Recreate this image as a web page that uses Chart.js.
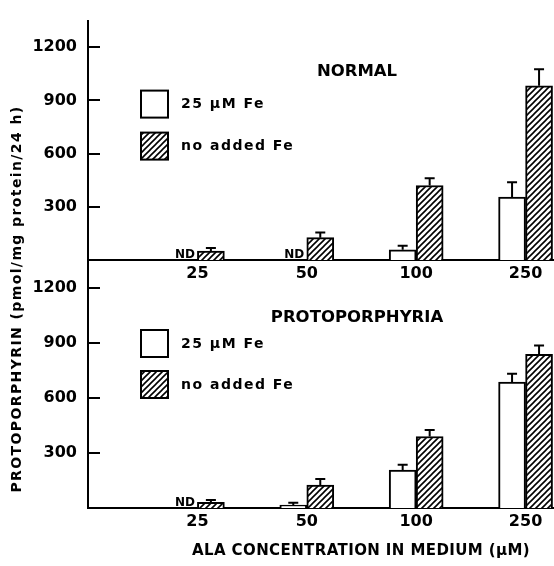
<!DOCTYPE html>
<html>
<head>
<meta charset="utf-8">
<script src="https://cdn.jsdelivr.net/npm/chart.js@4.4.0/dist/chart.umd.min.js"></script>
<style>
  html, body { margin: 0; padding: 0; background: #fff; overflow: hidden; }
  #wrap { position: relative; width: 554px; height: 566px; }
  #wrap canvas { position: absolute; left: 0; top: 0; }
</style>
</head>
<body>
<div id="wrap">
  <canvas id="normalChart" width="554" height="566"></canvas>
  <canvas id="ppChart" width="554" height="566"></canvas>
</div>
<script>
// ALA concentrations (uM) and their slot on the x axis
const alaLabels = ['25', '50', '100', '250'];
const alaPos = [1, 2, 3, 4];
const yTicks = [300, 600, 900, 1200];

// Normal cells (null = ND)
const normalFe = [null, null, 58, 355];
const normalFeErr = [null, null, 23, 83];
const normalNoFe = [50, 126, 420, 982];
const normalNoFeErr = [18, 29, 41, 94];

// Protoporphyria cells
const ppFe = [null, 16, 207, 686];
const ppFeErr = [null, 13, 29, 45];
const ppNoFe = [31, 125, 389, 836];
const ppNoFeErr = [13, 33, 35, 48];

const FONT = '"DejaVu Sans", sans-serif';

// diagonal hatch fill
function makeHatch(ctx) {
    const tile = document.createElement('canvas');
    tile.width = 6; tile.height = 6;
    const g = tile.getContext('2d');
    g.fillStyle = '#fff';
    g.fillRect(0, 0, 6, 6);
    g.strokeStyle = '#000';
    g.lineWidth = 1.6;
    g.beginPath();
    g.moveTo(0, 6); g.lineTo(6, 0);
    g.moveTo(-1, 1); g.lineTo(1, -1);
    g.moveTo(5, 7); g.lineTo(7, 5);
    g.stroke();
    return ctx.createPattern(tile, 'repeat');
}

// inward ticks, error bars, ND marks, legend, panel title, axis titles
const decor = {
    id: 'decor',
    afterDraw(chart, args, o) {
        const { ctx, chartArea: area, scales: { y } } = chart;
        ctx.save();
        ctx.strokeStyle = '#000';
        ctx.fillStyle = '#000';
        ctx.lineWidth = 2;

        ctx.beginPath();
        y.ticks.forEach(t => {
            const py = Math.round(y.getPixelForValue(t.value));
            ctx.moveTo(area.left, py);
            ctx.lineTo(area.left + 12, py);
        });
        ctx.stroke();

        chart.data.datasets.forEach((ds, di) => {
            chart.getDatasetMeta(di).data.forEach((bar, i) => {
                const v = ds.data[i].y;
                if (v == null) {
                    ctx.font = 'bold 12px ' + FONT;
                    ctx.textAlign = 'center';
                    ctx.textBaseline = 'alphabetic';
                    ctx.fillText('ND', bar.x + 1, area.bottom - 2);
                    return;
                }
                const e = ds.errors[i];
                if (!e) return;
                const top = y.getPixelForValue(v + e);
                ctx.beginPath();
                ctx.moveTo(bar.x, bar.y);
                ctx.lineTo(bar.x, top);
                ctx.moveTo(bar.x - 5, top);
                ctx.lineTo(bar.x + 5, top);
                ctx.stroke();
            });
        });

        // legend
        ctx.font = 'bold 14px ' + FONT;
        ctx.letterSpacing = '1.5px';
        ctx.textAlign = 'left';
        ctx.textBaseline = 'middle';
        chart.data.datasets.forEach((ds, di) => {
            const by = area.top + o.legendTop[di];
            ctx.fillStyle = ds.backgroundColor;
            ctx.fillRect(141, by, 27, 27);
            ctx.strokeRect(141, by, 27, 27);
            ctx.fillStyle = '#000';
            ctx.fillText(ds.label, 181, by + 14);
        });

        // panel title
        ctx.letterSpacing = '0px';
        ctx.font = 'bold 16.5px ' + FONT;
        ctx.textAlign = 'center';
        ctx.fillText(o.title, 357, area.top + o.titleTop);

        if (o.axisTitles) {
            ctx.font = 'bold 15px ' + FONT;
            ctx.letterSpacing = '0.4px';
            ctx.fillText('ALA CONCENTRATION IN MEDIUM (\u03BCM)', 361, 551);
            ctx.translate(17, 299);
            ctx.rotate(-Math.PI / 2);
            ctx.font = 'bold 14px ' + FONT;
            ctx.letterSpacing = '1.4px';
            ctx.fillText('PROTOPORPHYRIN (pmol/mg protein/24 h)', 0, 0);
        }
        ctx.restore();
    }
};

function panel(canvasId, feVals, feErr, noFeVals, noFeErr, o) {
    const canvas = document.getElementById(canvasId);
    const hatch = makeHatch(canvas.getContext('2d'));
    const pts = vals => alaPos.map((x, i) => ({ x: x, y: vals[i] }));
    return new Chart(canvas, {
        type: 'bar',
        data: {
            datasets: [{
                label: '25 \u03BCM Fe',
                data: pts(feVals),
                errors: feErr,
                backgroundColor: '#fff',
                borderColor: '#000',
                borderWidth: 2,
                barThickness: 27
            }, {
                label: 'no added Fe',
                data: pts(noFeVals),
                errors: noFeErr,
                backgroundColor: hatch,
                borderColor: '#000',
                borderWidth: 2,
                barThickness: 27
            }]
        },
        options: {
            responsive: false,
            animation: false,
            events: [],
            layout: { padding: { top: o.top, left: 0, right: 0, bottom: 0 } },
            plugins: {
                legend: { display: false },
                tooltip: { enabled: false },
                decor: o
            },
            scales: {
                x: {
                    type: 'linear',
                    min: 0,
                    max: 4.26,
                    offset: false,
                    grid: { display: false, drawTicks: false },
                    border: { display: true, color: '#000', width: 2 },
                    ticks: {
                        color: '#000',
                        font: { family: FONT, size: 16, weight: 'bold' },
                        padding: 4,
                        maxRotation: 0,
                        autoSkip: false,
                        callback: v => alaLabels[alaPos.indexOf(v)] ?? ''
                    },
                    afterBuildTicks: s => { s.ticks = alaPos.map(v => ({ value: v })); },
                    afterFit: s => { s.height = o.xHeight; }
                },
                y: {
                    min: 0,
                    max: 1350,
                    grid: { display: false, drawTicks: false },
                    border: { display: true, color: '#000', width: 2 },
                    ticks: {
                        color: '#000',
                        font: { family: FONT, size: 16, weight: 'bold' },
                        padding: 11,
                        callback: v => String(v)
                    },
                    afterBuildTicks: s => { s.ticks = yTicks.map(v => ({ value: v })); },
                    afterFit: s => { s.width = 88; }
                }
            }
        },
        plugins: [decor]
    });
}

panel('normalChart', normalFe, normalFeErr, normalNoFe, normalNoFeErr,
    { top: 10, xHeight: 306, title: 'NORMAL', titleTop: 51, legendTop: [70, 112], axisTitles: false });
panel('ppChart', ppFe, ppFeErr, ppNoFe, ppNoFeErr,
    { top: 260, xHeight: 58, title: 'PROTOPORPHYRIA', titleTop: 58, legendTop: [70, 111], axisTitles: true });
</script>
</body>
</html>
